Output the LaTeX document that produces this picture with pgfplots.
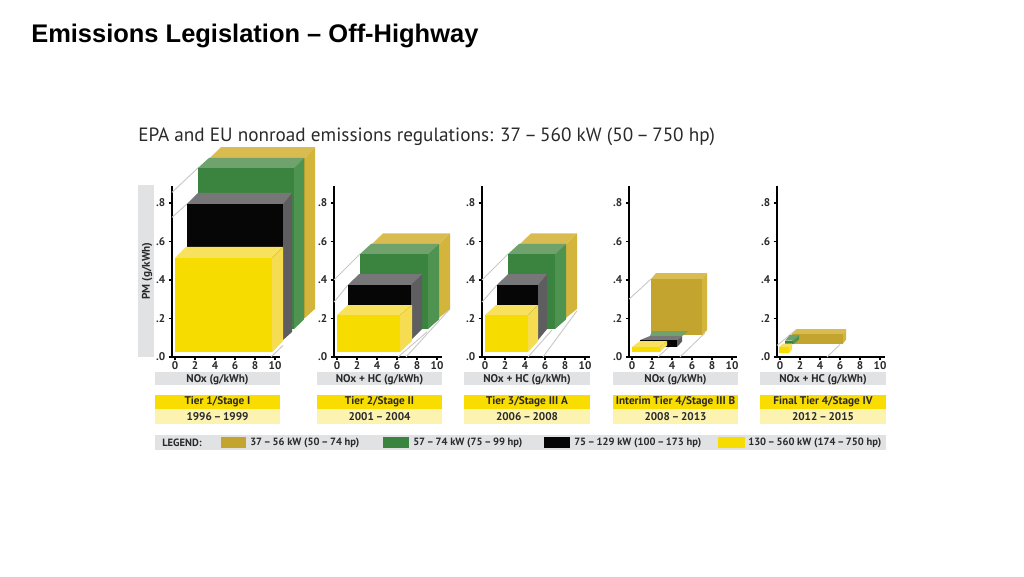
\documentclass[border=0pt]{standalone}
\usepackage{pgfplots}
\pgfplotsset{compat=1.18}
\usepackage{fontspec}
\setmainfont{PT Sans}
\newfontfamily\titlefont{Liberation Sans}
\definecolor{oliF}{HTML}{C2A42E}\definecolor{oliS}{HTML}{D4B53C}\definecolor{oliT}{HTML}{D8BC52}
\definecolor{greF}{HTML}{3B8440}\definecolor{greS}{HTML}{4E9450}\definecolor{greT}{HTML}{6FA26D}
\definecolor{blaF}{HTML}{060606}\definecolor{blaS}{HTML}{5E5E60}\definecolor{blaT}{HTML}{77777A}
\definecolor{yelF}{HTML}{F7DC00}\definecolor{yelS}{HTML}{F6DC50}\definecolor{yelT}{HTML}{F8E15C}
\definecolor{strip}{HTML}{E1E2E3}\definecolor{pale}{HTML}{FCF3B0}\definecolor{tier}{HTML}{F9DD00}
\definecolor{floorline}{HTML}{C9C9C9}\definecolor{txt}{HTML}{2A2A2A}
% colour name, front x0 x1 y0 y1, back-left x, back-right x, back-top y, back-bottom y
\newcommand{\cuboid}[9]{%
 \addplot[fill=#1S,draw=none,forget plot] coordinates {(#3,#4) (#7,#9) (#7,#8) (#3,#5)} -- cycle;
 \addplot[fill=#1T,draw=none,forget plot] coordinates {(#2,#5) (#6,#8) (#7,#8) (#3,#5)} -- cycle;
 \addplot[fill=#1F,draw=none,forget plot] coordinates {(#2,#4) (#3,#4) (#3,#5) (#2,#5)} -- cycle;
}
\newcommand{\guide}[4]{\addplot[floorline,line width=0.7pt,forget plot] coordinates {(#1,#2) (#3,#4)};}
\pgfplotsset{panel/.style={
  scale only axis,width=81pt,height=128.25pt,anchor=south west,clip=false,
  xmin=-0.3,xmax=10.5,ymin=0,ymax=0.888,
  axis x line=bottom,axis y line=left,
  axis line style={-,line width=1.8pt,black},
  xtick={0,2,4,6,8,10},ytick={0,0.2,0.4,0.6,0.8},
  yticklabels={.0,.2,.4,.6,.8},
  /pgf/number format/assume math mode=true,
  tick style={black,line width=1pt},tick align=outside,major tick length=2.5pt,
  ticklabel style={font=\fontsize{8.4}{9}\selectfont\bfseries,text=txt},
  xticklabel style={yshift=2.3pt},yticklabel style={xshift=1pt},
}}
\newcommand{\px}[2]{({(#1)*0.75pt},{(576-(#2))*0.75pt})}
\newcommand{\panelstrips}[5]{%
  \fill[strip] \px{#1}{372} rectangle \px{#2}{385};
  \fill[tier] \px{#1}{395} rectangle \px{#2}{409};
  \fill[pale] \px{#1}{409} rectangle \px{#2}{424};
  \node[font=\fontsize{8.4}{9}\selectfont\bfseries,text=txt] at \px{(#1+#2)/2}{379.5} {#3};
  \node[font=\fontsize{8.4}{9}\selectfont\bfseries,text=txt] at \px{(#1+#2)/2}{402} {#4};
  \node[font=\fontsize{8.4}{9}\selectfont\bfseries,text=txt] at \px{(#1+#2)/2}{416.5} {#5};
}
\begin{document}
\begin{tikzpicture}[x=1pt,y=1pt]
\path[use as bounding box,fill=white] (0,0) rectangle (768pt,432pt);
\node[anchor=base west,inner sep=0pt,font=\titlefont\bfseries\fontsize{19.1}{20}\selectfont] at \px{31}{43} {Emissions Legislation – Off-Highway};
\node[anchor=base west,inner sep=0pt,font=\fontsize{14.4}{15}\selectfont,text=txt] at \px{138}{141} {EPA and EU nonroad emissions regulations: 37\,–\,560 kW (50\,–\,750 hp)};
\fill[strip] \px{138}{185} rectangle \px{154}{357};
\node[rotate=90,font=\fontsize{8.4}{9}\selectfont\bfseries,text=txt] at \px{147}{271} {PM (g/kWh)};
\panelstrips{155}{280}{NOx (g/kWh)}{Tier 1/Stage I}{1996\,–\,1999}
\panelstrips{317}{442}{NOx + HC (g/kWh)}{Tier 2/Stage II}{2001\,–\,2004}
\panelstrips{464}{590}{NOx + HC (g/kWh)}{Tier 3/Stage III A}{2006\,–\,2008}
\panelstrips{613}{738}{NOx (g/kWh)}{Interim Tier 4/Stage III B}{2008\,–\,2013}
\panelstrips{760}{886}{NOx + HC (g/kWh)}{Final Tier 4/Stage IV}{2012\,–\,2015}
% legend
\fill[strip] \px{155}{435} rectangle \px{886}{450};
\node[anchor=west,inner sep=0pt,font=\fontsize{7.9}{9}\selectfont\bfseries,text=txt] at \px{162}{443} {LEGEND:};
\fill[oliF] \px{221}{437} rectangle \px{246}{448};
\node[anchor=west,inner sep=0pt,font=\fontsize{7.9}{9}\selectfont\bfseries,text=txt] at \px{250}{443} {37\,–\,56 kW (50\,–\,74 hp)};
\fill[greF] \px{383}{437} rectangle \px{409}{448};
\node[anchor=west,inner sep=0pt,font=\fontsize{7.9}{9}\selectfont\bfseries,text=txt] at \px{413}{443} {57\,–\,74 kW (75\,–\,99 hp)};
\fill[blaF] \px{544}{437} rectangle \px{570}{448};
\node[anchor=west,inner sep=0pt,font=\fontsize{7.9}{9}\selectfont\bfseries,text=txt] at \px{574}{443} {75\,–\,129 kW (100\,–\,173 hp)};
\fill[yelF] \px{718}{437} rectangle \px{745}{448};
\node[anchor=west,inner sep=0pt,font=\fontsize{7.9}{9}\selectfont\bfseries,text=txt] at \px{748}{443} {130\,–\,560 kW (174\,–\,750 hp)};

% Panel 1
\begin{axis}[panel,at={(129pt,164.25pt)}]
\guide{-0.3}{0.855}{2.3}{0.982}
\guide{-0.3}{0.725}{1.2}{0.795}
\guide{9.6}{0}{10.8}{0.06}
\cuboid{oli}{3.5}{13.0}{0.203}{1.034}{4.6}{14.0}{1.09}{0.25}
\cuboid{gre}{2.3}{11.9}{0.145}{0.982}{3.4}{12.9}{1.034}{0.195}
\cuboid{bla}{1.2}{10.8}{0.088}{0.795}{2.3}{11.7}{0.852}{0.13}
\cuboid{yel}{0}{9.7}{0.026}{0.514}{1.1}{10.8}{0.572}{0.083}
\end{axis}
% Panel 2
\begin{axis}[panel,at={(250.5pt,164.25pt)}]
\guide{-0.3}{0.40}{2.3}{0.535}
\guide{-0.3}{0.285}{1.1}{0.374}
\guide{6.1}{0}{9.0}{0.13}
\guide{6.9}{0}{11.3}{0.25}
\cuboid{oli}{3.5}{10.2}{0.203}{0.587}{4.6}{11.3}{0.642}{0.25}
\cuboid{gre}{2.3}{9.1}{0.145}{0.535}{3.4}{10.2}{0.587}{0.195}
\cuboid{bla}{1.1}{7.4}{0.088}{0.374}{2.2}{8.5}{0.431}{0.145}
\cuboid{yel}{0}{6.3}{0.026}{0.218}{1.1}{7.5}{0.27}{0.083}
\end{axis}
% Panel 3
\begin{axis}[panel,at={(361.5pt,164.25pt)}]
\guide{-0.3}{0.40}{2.3}{0.535}
\guide{-0.3}{0.285}{1.2}{0.374}
\guide{4.3}{0}{6.7}{0.14}
\guide{5.8}{0}{9.2}{0.24}
\cuboid{oli}{3.5}{8.1}{0.203}{0.587}{4.6}{9.2}{0.642}{0.25}
\cuboid{gre}{2.3}{7.0}{0.145}{0.535}{3.4}{8.1}{0.587}{0.195}
\cuboid{bla}{1.2}{5.3}{0.088}{0.374}{2.3}{6.2}{0.431}{0.145}
\cuboid{yel}{0}{4.3}{0.026}{0.218}{1.1}{5.3}{0.27}{0.083}
\end{axis}
% Panel 4
\begin{axis}[panel,at={(471.75pt,164.25pt)}]
\guide{-0.3}{0.30}{1.9}{0.405}
\guide{2.6}{0}{4.9}{0.11}
\guide{4.8}{0}{7.3}{0.125}
\cuboid{oli}{1.9}{7.0}{0.114}{0.405}{2.4}{7.5}{0.436}{0.14}
\cuboid{gre}{1.8}{5.0}{0.109}{0.109}{2.0}{5.6}{0.135}{0.135}
\cuboid{bla}{0.8}{4.5}{0.052}{0.088}{1.8}{5.0}{0.109}{0.08}
\cuboid{yel}{0}{2.8}{0.026}{0.052}{0.8}{3.5}{0.083}{0.06}
\end{axis}
% Panel 5
\begin{axis}[panel,at={(582.75pt,164.25pt)}]
\guide{-0.3}{0.06}{1.7}{0.145}
\guide{4.7}{0}{6.0}{0.065}
\cuboid{oli}{1.2}{6.3}{0.07}{0.12}{1.7}{6.6}{0.145}{0.09}
\cuboid{gre}{0.5}{1.3}{0.065}{0.085}{1.0}{1.9}{0.115}{0.09}
\cuboid{yel}{-0.1}{0.9}{0.02}{0.05}{0.3}{1.2}{0.07}{0.04}
\end{axis}
\end{tikzpicture}
\end{document}
